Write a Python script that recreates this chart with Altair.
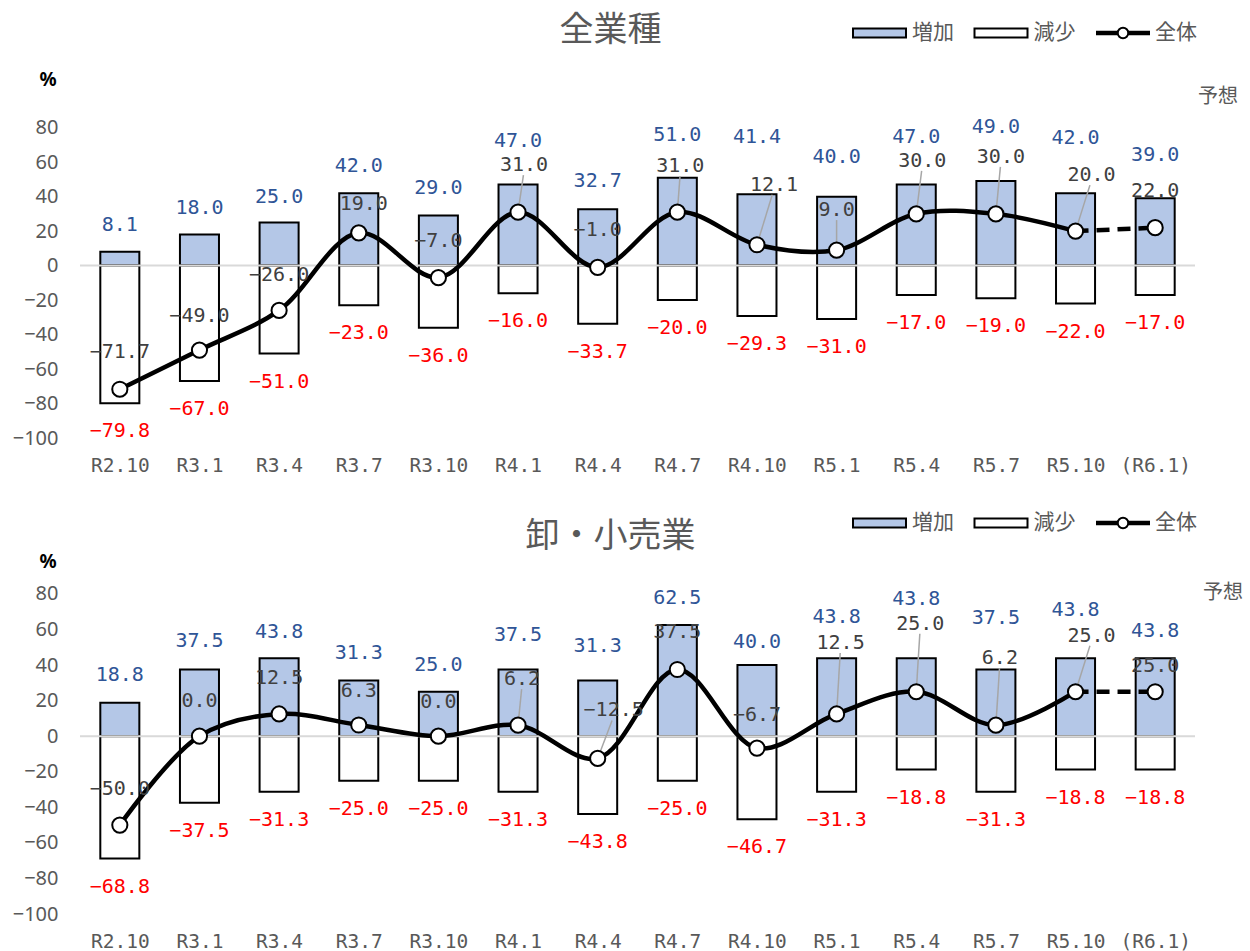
import json

import altair as alt
import pandas as pd

# ---------------------------------------------------------------- data
periods = ["R2.10", "R3.1", "R3.4", "R3.7", "R3.10", "R4.1", "R4.4",
           "R4.7", "R4.10", "R5.1", "R5.4", "R5.7", "R5.10", "(R6.1)"]

# 全業種
all_increase = [8.1, 18.0, 25.0, 42.0, 29.0, 47.0, 32.7, 51.0, 41.4, 40.0, 47.0, 49.0, 42.0, 39.0]
all_decrease = [-79.8, -67.0, -51.0, -23.0, -36.0, -16.0, -33.7, -20.0, -29.3, -31.0, -17.0, -19.0, -22.0, -17.0]
all_total = [-71.7, -49.0, -26.0, 19.0, -7.0, 31.0, -1.0, 31.0, 12.1, 9.0, 30.0, 30.0, 20.0, 22.0]

# 卸・小売業
trade_increase = [18.8, 37.5, 43.8, 31.3, 25.0, 37.5, 31.3, 62.5, 40.0, 43.8, 43.8, 37.5, 43.8, 43.8]
trade_decrease = [-68.8, -37.5, -31.3, -25.0, -25.0, -31.3, -43.8, -25.0, -46.7, -31.3, -18.8, -31.3, -18.8, -18.8]
trade_total = [-50.0, 0.0, 12.5, 6.3, 0.0, 6.2, -12.5, 37.5, -6.7, 12.5, 25.0, 6.2, 25.0, 25.0]

legend_names = ["増加", "減少", "全体"]

# label placement (pixels): lift above the bar top / the point, sideways shift
all_inc_lift = [27, 27, 26, 27, 28, 44, 28, 43, 57, 40, 48, 54, 55, 43]
all_tot_lift = [37, 34, 35, 29, 37, 47, 37, 46, 60, 40, 53, 57, 56, 37]
all_tot_dx = [0, 0, 0, 5, 0, 6, 0, 3, 17, 0, 6, 5, 16, 0]
trade_inc_lift = [28, 28, 26, 28, 27, 34, 35, 27, 23, 41, 59, 51, 48, 27]
trade_tot_lift = [36, 35, 36, 34, 34, 46, 48, 37, 33, 71, 68, 67, 56, 26]
trade_tot_dx = [0, 0, 0, 0, 0, 4, 16, 0, 0, 4, 4, 4, 16, 0]

# ---------------------------------------------------------------- style
AXIS_GRAY = "#595959"
LINE_LABEL = "#404040"
BLUE_TEXT = "#2F5597"
RED_TEXT = "#FF0000"
BAR_BLUE = "#B4C7E7"
JP = "Noto Sans CJK JP"
MONO = "DejaVu Sans Mono"
LATIN = "Noto Sans"

PLOT_W = 1115
N = len(periods)
STEP = PLOT_W / N
HALF_BAR = 0.245          # half bar width, in category steps
DEC_GAP = 28              # px from a decrease bar's end to its label
LEADER_MIN = 40           # labels lifted at least this far get a leader line
LEG_X0, LEG_STEP, LEG_SYM_W, LEG_TEXT_DX = 773, 121.5, 53, 59


def one_row(**cols):
    return alt.Chart(pd.DataFrame({k: [v] for k, v in cols.items()}))


def panel(title, inc, dec, tot, inc_lift, tot_lift, tot_dx,
          y_max, height, title_y, legend_y, pct_y, note_x, note_y):
    ppu = height / (y_max + 100)
    df = pd.DataFrame({
        "period": periods, "idx": list(range(N)),
        "inc": inc, "dec": dec, "tot": tot,
        "inc_lift": inc_lift, "tot_lift": tot_lift, "tot_dx": tot_dx,
    })

    x_scale = alt.Scale(domain=[-0.5, N - 0.5], nice=False, zero=False)
    x_axis = alt.Axis(values=list(range(N)), labelExpr=f"{json.dumps(periods)}[datum.value]",
                      title=None, grid=False, domain=False, ticks=False,
                      labelFont=MONO, labelFontSize=19.5, labelColor=AXIS_GRAY,
                      labelPadding=18, labelOverlap=False, labelFlush=False, labelBound=False)
    y_scale = alt.Scale(domain=[-100, y_max], nice=False, zero=False)
    y_axis = alt.Axis(values=list(range(-100, 81, 20)), title=None, grid=False,
                      domain=False, ticks=False, labelFont=LATIN, labelFontSize=20,
                      labelColor=AXIS_GRAY, labelPadding=22)

    def xq(f):
        return alt.X(f, type="quantitative", scale=x_scale, axis=x_axis)

    def yq(f):
        return alt.Y(f, type="quantitative", scale=y_scale, axis=y_axis)

    base = alt.Chart(df).transform_calculate(
        lo=f"datum.idx - {HALF_BAR}", hi=f"datum.idx + {HALF_BAR}", zero="0")

    inc_bars = base.mark_bar(fill=BAR_BLUE, stroke="black", strokeWidth=2).encode(
        x=xq("lo"), x2="hi:Q", y=yq("inc"), y2="zero:Q")
    dec_bars = base.mark_bar(fill="white", stroke="black", strokeWidth=2).encode(
        x=xq("lo"), x2="hi:Q", y=yq("dec"), y2="zero:Q")
    zero_line = one_row(v=0).mark_rule(color="#D9D9D9", strokeWidth=2).encode(y=yq("v"))

    solid = base.transform_filter(f"datum.idx <= {N - 2}").mark_line(
        color="black", strokeWidth=4.5, interpolate="catmull-rom").encode(x=xq("idx"), y=yq("tot"))
    dashed = base.transform_filter(f"datum.idx >= {N - 2}").mark_line(
        color="black", strokeWidth=4.5, strokeDash=[13, 8]).encode(x=xq("idx"), y=yq("tot"))

    leaders = base.transform_filter(f"datum.tot_lift >= {LEADER_MIN}").transform_calculate(
        lx=f"datum.idx + datum.tot_dx * 0.9 / {STEP}",
        ly=f"datum.tot + (datum.tot_lift - 10) / {ppu}",
    ).mark_rule(color="#A6A6A6", strokeWidth=1.5).encode(
        x=xq("idx"), y=yq("tot"), x2="lx:Q", y2="ly:Q")

    points = base.mark_point(shape="circle", filled=True, fill="white", stroke="black",
                             strokeWidth=2, size=230, opacity=1).encode(x=xq("idx"), y=yq("tot"))

    inc_labels = base.transform_calculate(ty=f"datum.inc + datum.inc_lift / {ppu}").mark_text(
        font=MONO, fontSize=20, color=BLUE_TEXT, baseline="middle").encode(
        x=xq("idx"), y=yq("ty"), text=alt.Text("inc:Q", format=".1f"))
    dec_labels = base.transform_calculate(ty=f"datum.dec - {DEC_GAP} / {ppu}").mark_text(
        font=MONO, fontSize=20, color=RED_TEXT, baseline="middle").encode(
        x=xq("idx"), y=yq("ty"), text=alt.Text("dec:Q", format=".1f"))
    tot_labels = base.transform_calculate(
        tx=f"datum.idx + datum.tot_dx / {STEP}",
        ty=f"datum.tot + datum.tot_lift / {ppu}",
    ).mark_text(font=MONO, fontSize=20, color=LINE_LABEL, baseline="middle").encode(
        x=xq("tx"), y=yq("ty"), text=alt.Text("tot:Q", format=".1f"))

    # header: title, legend, unit and note
    head = one_row(t=title).mark_text(font=JP, fontSize=34, color=AXIS_GRAY,
                                      baseline="middle").encode(
        x=alt.value(PLOT_W / 2 - 27), y=alt.value(title_y), text="t:N")
    pct = one_row(t="%").mark_text(font=LATIN, fontSize=19, color="black",
                                   fontWeight="bold", baseline="middle").encode(
        x=alt.value(-32), y=alt.value(pct_y), text="t:N")
    note = one_row(t="予想").mark_text(font=JP, fontSize=20, color=AXIS_GRAY,
                                     baseline="middle").encode(
        x=alt.value(note_x), y=alt.value(note_y), text="t:N")

    leg_df = pd.DataFrame({"name": legend_names,
                           "tx": [LEG_X0 + i * LEG_STEP + LEG_TEXT_DX for i in range(3)]})
    leg_text = alt.Chart(leg_df).mark_text(font=JP, fontSize=21, color=AXIS_GRAY,
                                           align="left", baseline="middle").encode(
        x=alt.X("tx:Q", scale=None), y=alt.value(legend_y), text="name:N")
    leg_inc = one_row(n=legend_names[0]).mark_rect(fill=BAR_BLUE, stroke="black", strokeWidth=2).encode(
        x=alt.value(LEG_X0), x2=alt.value(LEG_X0 + LEG_SYM_W),
        y=alt.value(legend_y - 4.5), y2=alt.value(legend_y + 4.5))
    leg_dec = one_row(n=legend_names[1]).mark_rect(fill="white", stroke="black", strokeWidth=2).encode(
        x=alt.value(LEG_X0 + LEG_STEP), x2=alt.value(LEG_X0 + LEG_STEP + LEG_SYM_W),
        y=alt.value(legend_y - 4.5), y2=alt.value(legend_y + 4.5))
    lx0 = LEG_X0 + 2 * LEG_STEP
    leg_line = one_row(n=legend_names[2]).mark_rule(color="black", strokeWidth=4.5).encode(
        x=alt.value(lx0), x2=alt.value(lx0 + LEG_SYM_W + 1), y=alt.value(legend_y))
    leg_dot = one_row(n=legend_names[2]).mark_point(shape="circle", filled=True, fill="white",
                                                    stroke="black", strokeWidth=2, size=110,
                                                    opacity=1).encode(
        x=alt.value(lx0 + (LEG_SYM_W + 1) / 2), y=alt.value(legend_y))

    return alt.layer(
        inc_bars, dec_bars, zero_line, leaders, solid, dashed, points,
        inc_labels, dec_labels, tot_labels,
        head, pct, note, leg_inc, leg_dec, leg_line, leg_dot, leg_text,
    ).properties(width=PLOT_W, height=height)


top = panel("全業種", all_increase, all_decrease, all_total,
            all_inc_lift, all_tot_lift, all_tot_dx,
            y_max=150, height=431, title_y=23.5, legend_y=26, pct_y=72.5,
            note_x=1138, note_y=90)
bottom = panel("卸・小売業", trade_increase, trade_decrease, trade_total,
               trade_inc_lift, trade_tot_lift, trade_tot_dx,
               y_max=130, height=409, title_y=32, legend_y=18, pct_y=57,
               note_x=1143, note_y=88)

chart = alt.vconcat(top, bottom, spacing=30).properties(
    padding={"left": 12, "top": 7, "right": 0, "bottom": 0},
    background="white",
).configure_view(stroke=None)

chart.save("out.html", embed_options={"renderer": "svg", "actions": False})
